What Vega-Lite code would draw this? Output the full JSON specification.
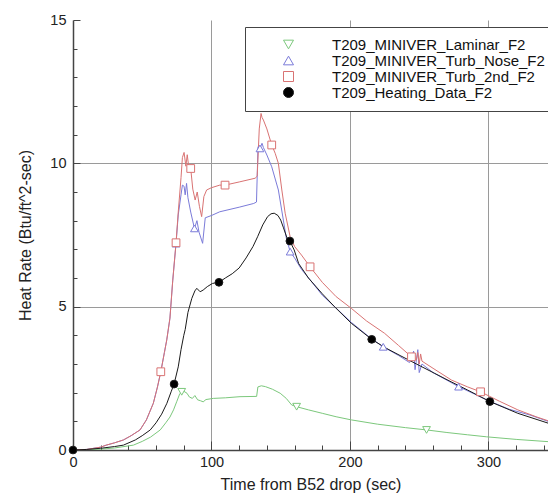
{
  "$schema": "https://vega.github.io/schema/vega-lite/v6.json",
  "width": 475,
  "height": 430,
  "autosize": {"type": "none"},
  "padding": {"left": 73, "top": 20, "right": 0, "bottom": 44},
  "background": "white",
  "config": {
    "view": {"stroke": null},
    "font": "Liberation Sans",
    "axis": {
      "labelFont": "Liberation Sans",
      "titleFont": "Liberation Sans",
      "labelFontSize": 14.5,
      "titleFontSize": 16,
      "titleFontWeight": "normal",
      "labelColor": "#222",
      "titleColor": "#222",
      "domainColor": "#444",
      "domainWidth": 1.5,
      "tickColor": "#444",
      "tickWidth": 1,
      "gridColor": "#9a9a9a",
      "gridWidth": 1
    }
  },
  "datasets": {
    "curves": [
      {"series": "T209_MINIVER_Laminar_F2", "time": 0, "rate": 0},
      {"series": "T209_MINIVER_Laminar_F2", "time": 20, "rate": 0.03},
      {"series": "T209_MINIVER_Laminar_F2", "time": 30, "rate": 0.07},
      {"series": "T209_MINIVER_Laminar_F2", "time": 43.6, "rate": 0.17},
      {"series": "T209_MINIVER_Laminar_F2", "time": 50, "rate": 0.3},
      {"series": "T209_MINIVER_Laminar_F2", "time": 56, "rate": 0.45},
      {"series": "T209_MINIVER_Laminar_F2", "time": 63, "rate": 0.7},
      {"series": "T209_MINIVER_Laminar_F2", "time": 67, "rate": 0.95},
      {"series": "T209_MINIVER_Laminar_F2", "time": 70, "rate": 1.15},
      {"series": "T209_MINIVER_Laminar_F2", "time": 72.6, "rate": 1.4},
      {"series": "T209_MINIVER_Laminar_F2", "time": 75, "rate": 1.7},
      {"series": "T209_MINIVER_Laminar_F2", "time": 77, "rate": 1.95},
      {"series": "T209_MINIVER_Laminar_F2", "time": 78.5, "rate": 2.03},
      {"series": "T209_MINIVER_Laminar_F2", "time": 80, "rate": 2.05},
      {"series": "T209_MINIVER_Laminar_F2", "time": 82.3, "rate": 1.98},
      {"series": "T209_MINIVER_Laminar_F2", "time": 84, "rate": 1.85},
      {"series": "T209_MINIVER_Laminar_F2", "time": 86.2, "rate": 1.8},
      {"series": "T209_MINIVER_Laminar_F2", "time": 88, "rate": 1.9},
      {"series": "T209_MINIVER_Laminar_F2", "time": 90, "rate": 1.75},
      {"series": "T209_MINIVER_Laminar_F2", "time": 92, "rate": 1.72},
      {"series": "T209_MINIVER_Laminar_F2", "time": 94, "rate": 1.68},
      {"series": "T209_MINIVER_Laminar_F2", "time": 96, "rate": 1.76},
      {"series": "T209_MINIVER_Laminar_F2", "time": 101.3, "rate": 1.8},
      {"series": "T209_MINIVER_Laminar_F2", "time": 110, "rate": 1.82},
      {"series": "T209_MINIVER_Laminar_F2", "time": 120.6, "rate": 1.86},
      {"series": "T209_MINIVER_Laminar_F2", "time": 132.6, "rate": 1.87},
      {"series": "T209_MINIVER_Laminar_F2", "time": 133.5, "rate": 2.2},
      {"series": "T209_MINIVER_Laminar_F2", "time": 136, "rate": 2.24},
      {"series": "T209_MINIVER_Laminar_F2", "time": 139, "rate": 2.21},
      {"series": "T209_MINIVER_Laminar_F2", "time": 144, "rate": 2.12},
      {"series": "T209_MINIVER_Laminar_F2", "time": 149.6, "rate": 1.98},
      {"series": "T209_MINIVER_Laminar_F2", "time": 154, "rate": 1.8},
      {"series": "T209_MINIVER_Laminar_F2", "time": 157.9, "rate": 1.57},
      {"series": "T209_MINIVER_Laminar_F2", "time": 161.5, "rate": 1.51},
      {"series": "T209_MINIVER_Laminar_F2", "time": 170, "rate": 1.4},
      {"series": "T209_MINIVER_Laminar_F2", "time": 180, "rate": 1.28},
      {"series": "T209_MINIVER_Laminar_F2", "time": 190, "rate": 1.16},
      {"series": "T209_MINIVER_Laminar_F2", "time": 201, "rate": 1.05},
      {"series": "T209_MINIVER_Laminar_F2", "time": 220, "rate": 0.9},
      {"series": "T209_MINIVER_Laminar_F2", "time": 240, "rate": 0.78},
      {"series": "T209_MINIVER_Laminar_F2", "time": 255.3, "rate": 0.7},
      {"series": "T209_MINIVER_Laminar_F2", "time": 270, "rate": 0.61},
      {"series": "T209_MINIVER_Laminar_F2", "time": 285, "rate": 0.53},
      {"series": "T209_MINIVER_Laminar_F2", "time": 298.7, "rate": 0.46},
      {"series": "T209_MINIVER_Laminar_F2", "time": 320, "rate": 0.37},
      {"series": "T209_MINIVER_Laminar_F2", "time": 343.5, "rate": 0.29},

      {"series": "T209_MINIVER_Turb_Nose_F2", "time": 0, "rate": 0},
      {"series": "T209_MINIVER_Turb_Nose_F2", "time": 10, "rate": 0.02},
      {"series": "T209_MINIVER_Turb_Nose_F2", "time": 20, "rate": 0.1},
      {"series": "T209_MINIVER_Turb_Nose_F2", "time": 24, "rate": 0.17},
      {"series": "T209_MINIVER_Turb_Nose_F2", "time": 30, "rate": 0.25},
      {"series": "T209_MINIVER_Turb_Nose_F2", "time": 36.4, "rate": 0.35},
      {"series": "T209_MINIVER_Turb_Nose_F2", "time": 42, "rate": 0.5},
      {"series": "T209_MINIVER_Turb_Nose_F2", "time": 48.4, "rate": 0.7},
      {"series": "T209_MINIVER_Turb_Nose_F2", "time": 53, "rate": 1.05},
      {"series": "T209_MINIVER_Turb_Nose_F2", "time": 58, "rate": 1.63},
      {"series": "T209_MINIVER_Turb_Nose_F2", "time": 61, "rate": 2.2},
      {"series": "T209_MINIVER_Turb_Nose_F2", "time": 63.4, "rate": 2.73},
      {"series": "T209_MINIVER_Turb_Nose_F2", "time": 66, "rate": 3.4},
      {"series": "T209_MINIVER_Turb_Nose_F2", "time": 67.7, "rate": 3.84},
      {"series": "T209_MINIVER_Turb_Nose_F2", "time": 70, "rate": 4.6},
      {"series": "T209_MINIVER_Turb_Nose_F2", "time": 72, "rate": 5.9},
      {"series": "T209_MINIVER_Turb_Nose_F2", "time": 74.4, "rate": 7.2},
      {"series": "T209_MINIVER_Turb_Nose_F2", "time": 76, "rate": 8.2},
      {"series": "T209_MINIVER_Turb_Nose_F2", "time": 78, "rate": 8.9},
      {"series": "T209_MINIVER_Turb_Nose_F2", "time": 79, "rate": 9.24},
      {"series": "T209_MINIVER_Turb_Nose_F2", "time": 80.2, "rate": 9.2},
      {"series": "T209_MINIVER_Turb_Nose_F2", "time": 81, "rate": 8.9},
      {"series": "T209_MINIVER_Turb_Nose_F2", "time": 82, "rate": 9.3},
      {"series": "T209_MINIVER_Turb_Nose_F2", "time": 83, "rate": 8.8},
      {"series": "T209_MINIVER_Turb_Nose_F2", "time": 85, "rate": 8.3},
      {"series": "T209_MINIVER_Turb_Nose_F2", "time": 87.7, "rate": 7.73},
      {"series": "T209_MINIVER_Turb_Nose_F2", "time": 89.5, "rate": 8.0},
      {"series": "T209_MINIVER_Turb_Nose_F2", "time": 91, "rate": 7.6},
      {"series": "T209_MINIVER_Turb_Nose_F2", "time": 93.6, "rate": 7.21},
      {"series": "T209_MINIVER_Turb_Nose_F2", "time": 95.5, "rate": 8.1},
      {"series": "T209_MINIVER_Turb_Nose_F2", "time": 100, "rate": 8.18},
      {"series": "T209_MINIVER_Turb_Nose_F2", "time": 106, "rate": 8.31},
      {"series": "T209_MINIVER_Turb_Nose_F2", "time": 120, "rate": 8.47},
      {"series": "T209_MINIVER_Turb_Nose_F2", "time": 130.5, "rate": 8.6},
      {"series": "T209_MINIVER_Turb_Nose_F2", "time": 132.5, "rate": 8.65},
      {"series": "T209_MINIVER_Turb_Nose_F2", "time": 133.6, "rate": 10.58},
      {"series": "T209_MINIVER_Turb_Nose_F2", "time": 135, "rate": 10.52},
      {"series": "T209_MINIVER_Turb_Nose_F2", "time": 136.5, "rate": 10.7},
      {"series": "T209_MINIVER_Turb_Nose_F2", "time": 137.5, "rate": 10.55},
      {"series": "T209_MINIVER_Turb_Nose_F2", "time": 140, "rate": 10.29},
      {"series": "T209_MINIVER_Turb_Nose_F2", "time": 143.5, "rate": 9.88},
      {"series": "T209_MINIVER_Turb_Nose_F2", "time": 148.3, "rate": 9.07},
      {"series": "T209_MINIVER_Turb_Nose_F2", "time": 151.9, "rate": 8.02},
      {"series": "T209_MINIVER_Turb_Nose_F2", "time": 154, "rate": 7.4},
      {"series": "T209_MINIVER_Turb_Nose_F2", "time": 156.8, "rate": 6.92},
      {"series": "T209_MINIVER_Turb_Nose_F2", "time": 160, "rate": 6.7},
      {"series": "T209_MINIVER_Turb_Nose_F2", "time": 165, "rate": 6.3},
      {"series": "T209_MINIVER_Turb_Nose_F2", "time": 171, "rate": 5.95},
      {"series": "T209_MINIVER_Turb_Nose_F2", "time": 180, "rate": 5.4},
      {"series": "T209_MINIVER_Turb_Nose_F2", "time": 190, "rate": 4.95},
      {"series": "T209_MINIVER_Turb_Nose_F2", "time": 201, "rate": 4.45},
      {"series": "T209_MINIVER_Turb_Nose_F2", "time": 215, "rate": 3.9},
      {"series": "T209_MINIVER_Turb_Nose_F2", "time": 224, "rate": 3.6},
      {"series": "T209_MINIVER_Turb_Nose_F2", "time": 235, "rate": 3.3},
      {"series": "T209_MINIVER_Turb_Nose_F2", "time": 243, "rate": 3.05},
      {"series": "T209_MINIVER_Turb_Nose_F2", "time": 246, "rate": 3.45},
      {"series": "T209_MINIVER_Turb_Nose_F2", "time": 247, "rate": 2.8},
      {"series": "T209_MINIVER_Turb_Nose_F2", "time": 249, "rate": 3.5},
      {"series": "T209_MINIVER_Turb_Nose_F2", "time": 250, "rate": 2.7},
      {"series": "T209_MINIVER_Turb_Nose_F2", "time": 252, "rate": 3.0},
      {"series": "T209_MINIVER_Turb_Nose_F2", "time": 260, "rate": 2.7},
      {"series": "T209_MINIVER_Turb_Nose_F2", "time": 278.4, "rate": 2.21},
      {"series": "T209_MINIVER_Turb_Nose_F2", "time": 290, "rate": 1.95},
      {"series": "T209_MINIVER_Turb_Nose_F2", "time": 300, "rate": 1.72},
      {"series": "T209_MINIVER_Turb_Nose_F2", "time": 315, "rate": 1.42},
      {"series": "T209_MINIVER_Turb_Nose_F2", "time": 330, "rate": 1.22},
      {"series": "T209_MINIVER_Turb_Nose_F2", "time": 343, "rate": 1.0},

      {"series": "T209_MINIVER_Turb_2nd_F2", "time": 0, "rate": 0},
      {"series": "T209_MINIVER_Turb_2nd_F2", "time": 10, "rate": 0.02},
      {"series": "T209_MINIVER_Turb_2nd_F2", "time": 20, "rate": 0.1},
      {"series": "T209_MINIVER_Turb_2nd_F2", "time": 24, "rate": 0.17},
      {"series": "T209_MINIVER_Turb_2nd_F2", "time": 30, "rate": 0.25},
      {"series": "T209_MINIVER_Turb_2nd_F2", "time": 36.4, "rate": 0.35},
      {"series": "T209_MINIVER_Turb_2nd_F2", "time": 42, "rate": 0.5},
      {"series": "T209_MINIVER_Turb_2nd_F2", "time": 48.4, "rate": 0.7},
      {"series": "T209_MINIVER_Turb_2nd_F2", "time": 53, "rate": 1.05},
      {"series": "T209_MINIVER_Turb_2nd_F2", "time": 58, "rate": 1.63},
      {"series": "T209_MINIVER_Turb_2nd_F2", "time": 61, "rate": 2.2},
      {"series": "T209_MINIVER_Turb_2nd_F2", "time": 63.4, "rate": 2.73},
      {"series": "T209_MINIVER_Turb_2nd_F2", "time": 66, "rate": 3.4},
      {"series": "T209_MINIVER_Turb_2nd_F2", "time": 67.7, "rate": 3.84},
      {"series": "T209_MINIVER_Turb_2nd_F2", "time": 70, "rate": 4.6},
      {"series": "T209_MINIVER_Turb_2nd_F2", "time": 72, "rate": 5.9},
      {"series": "T209_MINIVER_Turb_2nd_F2", "time": 74.4, "rate": 7.23},
      {"series": "T209_MINIVER_Turb_2nd_F2", "time": 76, "rate": 8.3},
      {"series": "T209_MINIVER_Turb_2nd_F2", "time": 78, "rate": 9.5},
      {"series": "T209_MINIVER_Turb_2nd_F2", "time": 79, "rate": 10.2},
      {"series": "T209_MINIVER_Turb_2nd_F2", "time": 80.2, "rate": 10.38},
      {"series": "T209_MINIVER_Turb_2nd_F2", "time": 81.5, "rate": 9.9},
      {"series": "T209_MINIVER_Turb_2nd_F2", "time": 82.5, "rate": 10.3},
      {"series": "T209_MINIVER_Turb_2nd_F2", "time": 83.5, "rate": 9.9},
      {"series": "T209_MINIVER_Turb_2nd_F2", "time": 85, "rate": 9.82},
      {"series": "T209_MINIVER_Turb_2nd_F2", "time": 86.5, "rate": 9.1},
      {"series": "T209_MINIVER_Turb_2nd_F2", "time": 88.2, "rate": 8.72},
      {"series": "T209_MINIVER_Turb_2nd_F2", "time": 89.7, "rate": 9.0},
      {"series": "T209_MINIVER_Turb_2nd_F2", "time": 91.3, "rate": 8.5},
      {"series": "T209_MINIVER_Turb_2nd_F2", "time": 92.9, "rate": 8.14},
      {"series": "T209_MINIVER_Turb_2nd_F2", "time": 94.5, "rate": 8.84},
      {"series": "T209_MINIVER_Turb_2nd_F2", "time": 96.5, "rate": 9.07},
      {"series": "T209_MINIVER_Turb_2nd_F2", "time": 100, "rate": 9.15},
      {"series": "T209_MINIVER_Turb_2nd_F2", "time": 106, "rate": 9.24},
      {"series": "T209_MINIVER_Turb_2nd_F2", "time": 109.8, "rate": 9.24},
      {"series": "T209_MINIVER_Turb_2nd_F2", "time": 120, "rate": 9.35},
      {"series": "T209_MINIVER_Turb_2nd_F2", "time": 131.5, "rate": 9.48},
      {"series": "T209_MINIVER_Turb_2nd_F2", "time": 133, "rate": 9.55},
      {"series": "T209_MINIVER_Turb_2nd_F2", "time": 134.5, "rate": 11.2},
      {"series": "T209_MINIVER_Turb_2nd_F2", "time": 135.8, "rate": 11.74},
      {"series": "T209_MINIVER_Turb_2nd_F2", "time": 136.5, "rate": 11.6},
      {"series": "T209_MINIVER_Turb_2nd_F2", "time": 137.5, "rate": 11.51},
      {"series": "T209_MINIVER_Turb_2nd_F2", "time": 140, "rate": 11.2},
      {"series": "T209_MINIVER_Turb_2nd_F2", "time": 143.5, "rate": 10.64},
      {"series": "T209_MINIVER_Turb_2nd_F2", "time": 146, "rate": 10.35},
      {"series": "T209_MINIVER_Turb_2nd_F2", "time": 148.3, "rate": 10.0},
      {"series": "T209_MINIVER_Turb_2nd_F2", "time": 150.8, "rate": 9.07},
      {"series": "T209_MINIVER_Turb_2nd_F2", "time": 153.2, "rate": 8.26},
      {"series": "T209_MINIVER_Turb_2nd_F2", "time": 156.8, "rate": 7.44},
      {"series": "T209_MINIVER_Turb_2nd_F2", "time": 160, "rate": 7.1},
      {"series": "T209_MINIVER_Turb_2nd_F2", "time": 165, "rate": 6.8},
      {"series": "T209_MINIVER_Turb_2nd_F2", "time": 171.2, "rate": 6.39},
      {"series": "T209_MINIVER_Turb_2nd_F2", "time": 180, "rate": 5.85},
      {"series": "T209_MINIVER_Turb_2nd_F2", "time": 190, "rate": 5.35},
      {"series": "T209_MINIVER_Turb_2nd_F2", "time": 201, "rate": 4.94},
      {"series": "T209_MINIVER_Turb_2nd_F2", "time": 212, "rate": 4.5},
      {"series": "T209_MINIVER_Turb_2nd_F2", "time": 225, "rate": 4.07},
      {"series": "T209_MINIVER_Turb_2nd_F2", "time": 235, "rate": 3.65},
      {"series": "T209_MINIVER_Turb_2nd_F2", "time": 244.4, "rate": 3.25},
      {"series": "T209_MINIVER_Turb_2nd_F2", "time": 248, "rate": 3.15},
      {"series": "T209_MINIVER_Turb_2nd_F2", "time": 249, "rate": 3.4},
      {"series": "T209_MINIVER_Turb_2nd_F2", "time": 250, "rate": 3.0},
      {"series": "T209_MINIVER_Turb_2nd_F2", "time": 251, "rate": 3.35},
      {"series": "T209_MINIVER_Turb_2nd_F2", "time": 252, "rate": 3.1},
      {"series": "T209_MINIVER_Turb_2nd_F2", "time": 260, "rate": 2.85},
      {"series": "T209_MINIVER_Turb_2nd_F2", "time": 273.3, "rate": 2.44},
      {"series": "T209_MINIVER_Turb_2nd_F2", "time": 285, "rate": 2.2},
      {"series": "T209_MINIVER_Turb_2nd_F2", "time": 294.3, "rate": 2.03},
      {"series": "T209_MINIVER_Turb_2nd_F2", "time": 308, "rate": 1.7},
      {"series": "T209_MINIVER_Turb_2nd_F2", "time": 321.2, "rate": 1.4},
      {"series": "T209_MINIVER_Turb_2nd_F2", "time": 335, "rate": 1.15},
      {"series": "T209_MINIVER_Turb_2nd_F2", "time": 343, "rate": 1.02},

      {"series": "T209_Heating_Data_F2", "time": 0, "rate": 0},
      {"series": "T209_Heating_Data_F2", "time": 10, "rate": 0.02},
      {"series": "T209_Heating_Data_F2", "time": 20, "rate": 0.06},
      {"series": "T209_Heating_Data_F2", "time": 30, "rate": 0.12},
      {"series": "T209_Heating_Data_F2", "time": 36.4, "rate": 0.17},
      {"series": "T209_Heating_Data_F2", "time": 45, "rate": 0.35},
      {"series": "T209_Heating_Data_F2", "time": 50, "rate": 0.5},
      {"series": "T209_Heating_Data_F2", "time": 55.8, "rate": 0.7},
      {"series": "T209_Heating_Data_F2", "time": 60, "rate": 0.95},
      {"series": "T209_Heating_Data_F2", "time": 64, "rate": 1.25},
      {"series": "T209_Heating_Data_F2", "time": 67.8, "rate": 1.63},
      {"series": "T209_Heating_Data_F2", "time": 71, "rate": 2.05},
      {"series": "T209_Heating_Data_F2", "time": 73, "rate": 2.3},
      {"series": "T209_Heating_Data_F2", "time": 76, "rate": 2.9},
      {"series": "T209_Heating_Data_F2", "time": 78, "rate": 3.5},
      {"series": "T209_Heating_Data_F2", "time": 80, "rate": 4.0},
      {"series": "T209_Heating_Data_F2", "time": 81, "rate": 4.2},
      {"series": "T209_Heating_Data_F2", "time": 83, "rate": 4.8},
      {"series": "T209_Heating_Data_F2", "time": 85.8, "rate": 5.29},
      {"series": "T209_Heating_Data_F2", "time": 88, "rate": 5.55},
      {"series": "T209_Heating_Data_F2", "time": 89.4, "rate": 5.64},
      {"series": "T209_Heating_Data_F2", "time": 91.8, "rate": 5.52},
      {"series": "T209_Heating_Data_F2", "time": 94, "rate": 5.58},
      {"series": "T209_Heating_Data_F2", "time": 97, "rate": 5.7},
      {"series": "T209_Heating_Data_F2", "time": 100.7, "rate": 5.81},
      {"series": "T209_Heating_Data_F2", "time": 105.4, "rate": 5.85},
      {"series": "T209_Heating_Data_F2", "time": 110, "rate": 6.0},
      {"series": "T209_Heating_Data_F2", "time": 115, "rate": 6.15},
      {"series": "T209_Heating_Data_F2", "time": 120, "rate": 6.35},
      {"series": "T209_Heating_Data_F2", "time": 125, "rate": 6.7},
      {"series": "T209_Heating_Data_F2", "time": 130, "rate": 7.1},
      {"series": "T209_Heating_Data_F2", "time": 133.3, "rate": 7.44},
      {"series": "T209_Heating_Data_F2", "time": 137, "rate": 7.85},
      {"series": "T209_Heating_Data_F2", "time": 140.5, "rate": 8.14},
      {"series": "T209_Heating_Data_F2", "time": 143, "rate": 8.24},
      {"series": "T209_Heating_Data_F2", "time": 145.3, "rate": 8.26},
      {"series": "T209_Heating_Data_F2", "time": 148, "rate": 8.18},
      {"series": "T209_Heating_Data_F2", "time": 150, "rate": 8.02},
      {"series": "T209_Heating_Data_F2", "time": 152, "rate": 7.75},
      {"series": "T209_Heating_Data_F2", "time": 154.5, "rate": 7.4},
      {"series": "T209_Heating_Data_F2", "time": 156.6, "rate": 7.29},
      {"series": "T209_Heating_Data_F2", "time": 159.7, "rate": 6.98},
      {"series": "T209_Heating_Data_F2", "time": 163, "rate": 6.5},
      {"series": "T209_Heating_Data_F2", "time": 170, "rate": 6.0},
      {"series": "T209_Heating_Data_F2", "time": 180, "rate": 5.45},
      {"series": "T209_Heating_Data_F2", "time": 188.8, "rate": 5.0},
      {"series": "T209_Heating_Data_F2", "time": 201, "rate": 4.42},
      {"series": "T209_Heating_Data_F2", "time": 215.7, "rate": 3.86},
      {"series": "T209_Heating_Data_F2", "time": 225, "rate": 3.58},
      {"series": "T209_Heating_Data_F2", "time": 236.8, "rate": 3.28},
      {"series": "T209_Heating_Data_F2", "time": 248, "rate": 3.0},
      {"series": "T209_Heating_Data_F2", "time": 260.9, "rate": 2.68},
      {"series": "T209_Heating_Data_F2", "time": 273, "rate": 2.38},
      {"series": "T209_Heating_Data_F2", "time": 285, "rate": 2.09},
      {"series": "T209_Heating_Data_F2", "time": 301, "rate": 1.69},
      {"series": "T209_Heating_Data_F2", "time": 321.2, "rate": 1.28},
      {"series": "T209_Heating_Data_F2", "time": 343.5, "rate": 0.93}
    ],
    "markers": [
      {"series": "T209_MINIVER_Laminar_F2", "time": 78.5, "rate": 2.03},
      {"series": "T209_MINIVER_Laminar_F2", "time": 161.5, "rate": 1.51},
      {"series": "T209_MINIVER_Laminar_F2", "time": 255.3, "rate": 0.7},
      {"series": "T209_MINIVER_Turb_Nose_F2", "time": 74.4, "rate": 7.2},
      {"series": "T209_MINIVER_Turb_Nose_F2", "time": 87.7, "rate": 7.73},
      {"series": "T209_MINIVER_Turb_Nose_F2", "time": 135, "rate": 10.52},
      {"series": "T209_MINIVER_Turb_Nose_F2", "time": 156.8, "rate": 6.92},
      {"series": "T209_MINIVER_Turb_Nose_F2", "time": 224, "rate": 3.6},
      {"series": "T209_MINIVER_Turb_Nose_F2", "time": 278.4, "rate": 2.21},
      {"series": "T209_MINIVER_Turb_2nd_F2", "time": 63.4, "rate": 2.73},
      {"series": "T209_MINIVER_Turb_2nd_F2", "time": 74.4, "rate": 7.23},
      {"series": "T209_MINIVER_Turb_2nd_F2", "time": 85, "rate": 9.82},
      {"series": "T209_MINIVER_Turb_2nd_F2", "time": 109.8, "rate": 9.24},
      {"series": "T209_MINIVER_Turb_2nd_F2", "time": 143.5, "rate": 10.64},
      {"series": "T209_MINIVER_Turb_2nd_F2", "time": 171.2, "rate": 6.39},
      {"series": "T209_MINIVER_Turb_2nd_F2", "time": 244.4, "rate": 3.25},
      {"series": "T209_MINIVER_Turb_2nd_F2", "time": 294.3, "rate": 2.03},
      {"series": "T209_Heating_Data_F2", "time": 0, "rate": 0},
      {"series": "T209_Heating_Data_F2", "time": 73, "rate": 2.3},
      {"series": "T209_Heating_Data_F2", "time": 105.4, "rate": 5.85},
      {"series": "T209_Heating_Data_F2", "time": 156.6, "rate": 7.29},
      {"series": "T209_Heating_Data_F2", "time": 215.7, "rate": 3.86},
      {"series": "T209_Heating_Data_F2", "time": 301, "rate": 1.69}
    ]
  },
  "encoding": {
    "x": {
      "field": "time", "type": "quantitative",
      "scale": {"domain": [0, 343], "nice": false, "zero": false},
      "axis": {
        "title": "Time from B52 drop (sec)",
        "values": [0, 20, 40, 60, 80, 100, 120, 140, 160, 180, 200, 220, 240, 260, 280, 300, 320, 340],
        "labelExpr": "datum.value % 100 === 0 ? datum.label : ''",
        "tickSize": {"condition": {"test": "datum.value % 100 === 0", "value": -9}, "value": -5},
        "labelPadding": 14,
        "titlePadding": 8,
        "grid": true,
        "gridOpacity": {"condition": {"test": "datum.value % 100 === 0 && datum.value > 0", "value": 1}, "value": 0},
        "labelFlush": false
      }
    },
    "y": {
      "field": "rate", "type": "quantitative",
      "scale": {"domain": [0, 15], "nice": false},
      "axis": {
        "title": "Heat Rate (Btu/ft^2-sec)",
        "values": [0, 1, 2, 3, 4, 5, 6, 7, 8, 9, 10, 11, 12, 13, 14, 15],
        "labelExpr": "datum.value % 5 === 0 ? datum.label : ''",
        "tickSize": {"condition": {"test": "datum.value % 5 === 0", "value": -7}, "value": -4},
        "labelPadding": 14,
        "titlePadding": 16,
        "grid": true,
        "gridOpacity": {"condition": {"test": "datum.value % 5 === 0 && datum.value > 0 && datum.value < 15", "value": 1}, "value": 0},
        "labelFlush": false
      }
    }
  },
  "layer": [
    {
      "data": {"name": "curves"},
      "transform": [{"filter": "datum.series === 'T209_MINIVER_Laminar_F2'"}],
      "mark": {"type": "line", "color": "#7cc87c", "strokeWidth": 1, "clip": true},
      "encoding": {}
    },
    {
      "data": {"name": "curves"},
      "transform": [{"filter": "datum.series === 'T209_MINIVER_Turb_Nose_F2'"}],
      "mark": {"type": "line", "color": "#7b7bd9", "strokeWidth": 1, "clip": true},
      "encoding": {}
    },
    {
      "data": {"name": "curves"},
      "transform": [{"filter": "datum.series === 'T209_MINIVER_Turb_2nd_F2'"}],
      "mark": {"type": "line", "color": "#d97373", "strokeWidth": 1, "clip": true},
      "encoding": {}
    },
    {
      "data": {"name": "curves"},
      "transform": [{"filter": "datum.series === 'T209_Heating_Data_F2'"}],
      "mark": {"type": "line", "color": "#1a1a1a", "strokeWidth": 1, "clip": true},
      "encoding": {}
    },
    {
      "mark": {"type": "rule", "color": "#444", "strokeWidth": 1.5},
      "encoding": {"y": {"datum": 15}}
    },
    {
      "data": {"name": "markers"},
      "mark": {"type": "point", "filled": false, "strokeWidth": 1, "opacity": 1, "size": 60},
      "encoding": {
        "stroke": {
          "field": "series", "type": "nominal",
          "scale": {
            "domain": ["T209_MINIVER_Laminar_F2", "T209_MINIVER_Turb_Nose_F2", "T209_MINIVER_Turb_2nd_F2", "T209_Heating_Data_F2"],
            "range": ["#7cc87c", "#7b7bd9", "#d97373", "#1a1a1a"]
          },
          "legend": {
            "title": null,
            "orient": "none",
            "legendX": 172,
            "legendY": 7,
            "padding": 10,
            "strokeColor": "#444",
            "fillColor": "white",
            "labelFont": "Liberation Sans",
            "labelFontSize": 15,
            "labelColor": "#111",
            "labelLimit": 400,
            "symbolSize": 100,
            "symbolStrokeWidth": 1,
            "symbolOffset": 26,
            "labelOffset": 36,
            "rowPadding": 0,
            "encode": {
              "symbols": {
                "size": {"value": 100},
                "shape": {"value": {"expr": "datum.value === 'T209_Heating_Data_F2' ? 'M-6.3,0H6.3M-0.9,0A0.9,0.9 0 1,1 0.9,0A0.9,0.9 0 1,1 -0.9,0Z' : datum.value === 'T209_MINIVER_Turb_2nd_F2' ? 'M-6.3,0H-0.8M0.8,0H6.3M-0.8,-0.8H0.8V0.8H-0.8Z' : datum.value === 'T209_MINIVER_Turb_Nose_F2' ? 'M-6.3,0H-0.56M0.56,0H6.3M0,-1L0.9,0.6H-0.9Z' : 'M-6.3,0H-0.56M0.56,0H6.3M0,1L0.9,-0.6H-0.9Z'"}}
              }
            }
          }
        },
        "fill": {
          "field": "series", "type": "nominal",
          "scale": {
            "domain": ["T209_MINIVER_Laminar_F2", "T209_MINIVER_Turb_Nose_F2", "T209_MINIVER_Turb_2nd_F2", "T209_Heating_Data_F2"],
            "range": ["white", "white", "white", "#000000"]
          },
          "legend": {
            "title": null,
            "encode": {
              "symbols": {
                "size": {"value": 100},
                "shape": {"value": {"expr": "datum.value === 'T209_Heating_Data_F2' ? 'M-6.3,0H6.3M-0.9,0A0.9,0.9 0 1,1 0.9,0A0.9,0.9 0 1,1 -0.9,0Z' : datum.value === 'T209_MINIVER_Turb_2nd_F2' ? 'M-6.3,0H-0.8M0.8,0H6.3M-0.8,-0.8H0.8V0.8H-0.8Z' : datum.value === 'T209_MINIVER_Turb_Nose_F2' ? 'M-6.3,0H-0.56M0.56,0H6.3M0,-1L0.9,0.6H-0.9Z' : 'M-6.3,0H-0.56M0.56,0H6.3M0,1L0.9,-0.6H-0.9Z'"}}
              }
            }
          }
        },
        "shape": {
          "field": "series", "type": "nominal",
          "scale": {
            "domain": ["T209_MINIVER_Laminar_F2", "T209_MINIVER_Turb_Nose_F2", "T209_MINIVER_Turb_2nd_F2", "T209_Heating_Data_F2"],
            "range": ["triangle-down", "triangle-up", "square", "circle"]
          },
          "legend": {
            "title": null,
            "encode": {
              "symbols": {
                "size": {"value": 100},
                "shape": {"value": {"expr": "datum.value === 'T209_Heating_Data_F2' ? 'M-6.3,0H6.3M-0.9,0A0.9,0.9 0 1,1 0.9,0A0.9,0.9 0 1,1 -0.9,0Z' : datum.value === 'T209_MINIVER_Turb_2nd_F2' ? 'M-6.3,0H-0.8M0.8,0H6.3M-0.8,-0.8H0.8V0.8H-0.8Z' : datum.value === 'T209_MINIVER_Turb_Nose_F2' ? 'M-6.3,0H-0.56M0.56,0H6.3M0,-1L0.9,0.6H-0.9Z' : 'M-6.3,0H-0.56M0.56,0H6.3M0,1L0.9,-0.6H-0.9Z'"}}
              }
            }
          }
        }
      }
    }
  ]
}
